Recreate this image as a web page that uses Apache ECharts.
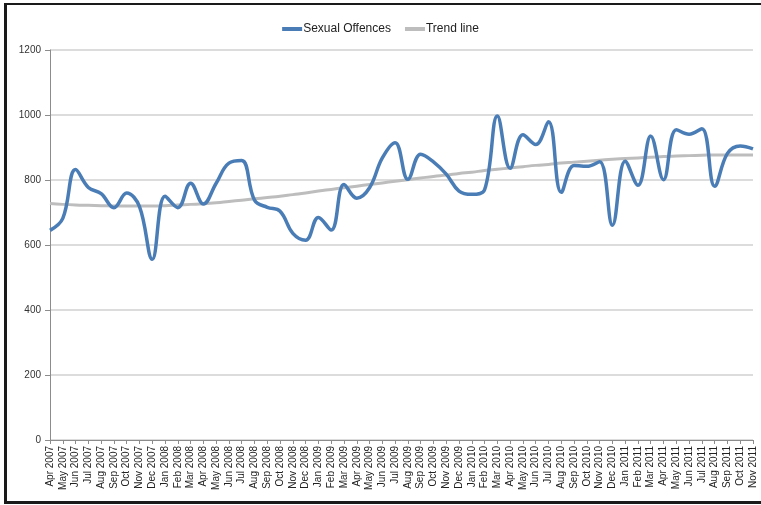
<!DOCTYPE html>
<html>
<head>
<meta charset="utf-8">
<script src="https://cdn.jsdelivr.net/npm/echarts@6/dist/echarts.min.js"></script>
<style>
  html, body { margin: 0; padding: 0; background: #fff; }
  #main { position: absolute; left: 0; top: 0; width: 761px; height: 505px; }
  #frame { position: absolute; left: 4px; top: 3px; width: 770px; height: 496px;
           border-left: 3px solid #1a1a1a; border-top: 2px solid #1a1a1a; border-bottom: 3px solid #1a1a1a; pointer-events: none; }
</style>
</head>
<body>
<div id="main"></div>
<div id="frame"></div>
<script>
var months = ['Apr 2007','May 2007','Jun 2007','Jul 2007','Aug 2007','Sep 2007','Oct 2007','Nov 2007','Dec 2007',
  'Jan 2008','Feb 2008','Mar 2008','Apr 2008','May 2008','Jun 2008','Jul 2008','Aug 2008','Sep 2008','Oct 2008','Nov 2008','Dec 2008',
  'Jan 2009','Feb 2009','Mar 2009','Apr 2009','May 2009','Jun 2009','Jul 2009','Aug 2009','Sep 2009','Oct 2009','Nov 2009','Dec 2009',
  'Jan 2010','Feb 2010','Mar 2010','Apr 2010','May 2010','Jun 2010','Jul 2010','Aug 2010','Sep 2010','Oct 2010','Nov 2010','Dec 2010',
  'Jan 2011','Feb 2011','Mar 2011','Apr 2011','May 2011','Jun 2011','Jul 2011','Aug 2011','Sep 2011','Oct 2011','Nov 2011'];

var offences = [645, 682, 832, 777, 758, 715, 760, 718, 556,
  750, 715, 790, 726, 790, 852, 860, 738, 716, 704, 636, 615,
  685, 646, 786, 744, 776, 868, 915, 802, 879, 856, 818, 766,
  756, 770, 997, 836, 939, 909, 979, 762,
  845, 842, 856, 661, 858, 784, 935, 801, 955, 941, 958, 781, 882, 905, 896];

var trend = [728, 725, 723, 722, 721, 720, 720, 720, 720,
  721, 723, 725, 727, 730, 734, 738, 742, 746, 750, 755, 760,
  766, 771, 776, 781, 786, 791, 796, 801, 806, 811, 815, 820,
  824, 829, 833, 837, 841, 845, 848, 852,
  855, 858, 861, 864, 866, 868, 870, 872, 874, 875, 876, 877, 877, 877, 877];

var yTicks = { min: 0, max: 1200, interval: 200 };

var myChart = echarts.init(document.getElementById('main'));
var option = {
  animation: false,
  textStyle: { fontFamily: 'Liberation Sans, Arial, sans-serif' },
  legend: {
    data: ['Sexual Offences', 'Trend line'],
    top: 18,
    left: 'center',
    itemWidth: 20,
    itemHeight: 4,
    itemGap: 14,
    icon: 'rect',
    textStyle: { fontSize: 12, color: '#222', padding: [0, 0, 0, -4] }
  },
  grid: { left: 50, right: 8, top: 50, bottom: 65 },
  xAxis: {
    type: 'category',
    data: months,
    boundaryGap: false,
    axisLine: { lineStyle: { color: '#8c8c8c', width: 1 } },
    axisTick: { show: true, interval: 0, length: 4, lineStyle: { color: '#8c8c8c' } },
    axisLabel: { interval: 0, rotate: 90, fontSize: 10, color: '#222', margin: 6 }
  },
  yAxis: {
    type: 'value',
    min: yTicks.min,
    max: yTicks.max,
    interval: yTicks.interval,
    axisLine: { show: true, lineStyle: { color: '#8c8c8c' } },
    axisTick: { show: true, length: 5, lineStyle: { color: '#8c8c8c' } },
    axisLabel: { fontSize: 10, color: '#333', margin: 9, formatter: function (v) { return String(v); } },
    splitLine: { lineStyle: { color: '#d0d0d0', width: 1.5 } }
  },
  series: [
    {
      name: 'Sexual Offences',
      type: 'line',
      data: offences,
      smooth: 0.4,
      showSymbol: false,
      z: 3,
      itemStyle: { color: '#4a7db6' },
      lineStyle: { color: '#4a7db6', width: 3.5 }
    },
    {
      name: 'Trend line',
      type: 'line',
      data: trend,
      smooth: true,
      showSymbol: false,
      z: 2,
      itemStyle: { color: '#bdbdbd' },
      lineStyle: { color: '#bdbdbd', width: 3 }
    }
  ]
};
myChart.setOption(option);
</script>
</body>
</html>
